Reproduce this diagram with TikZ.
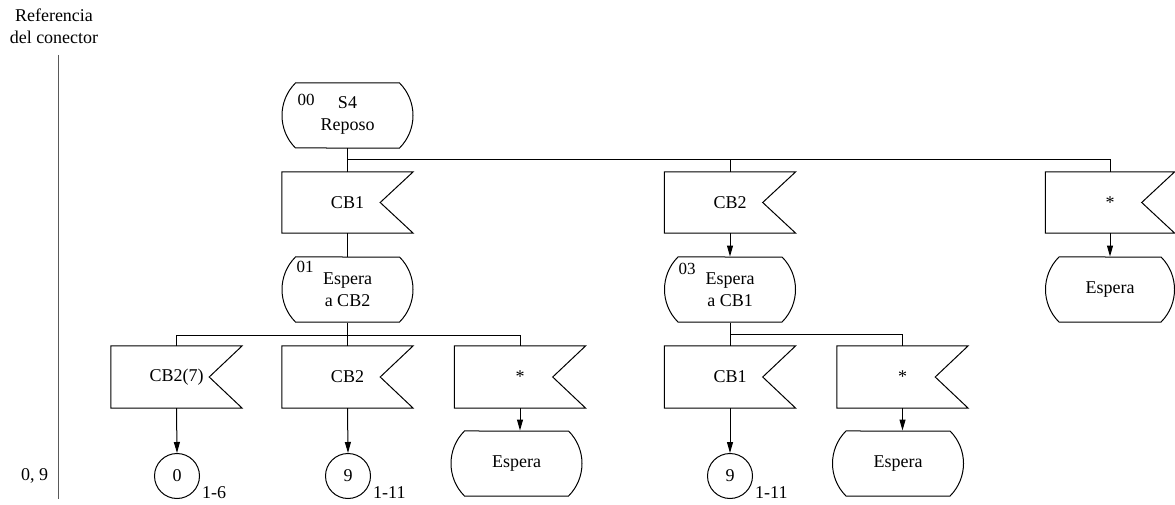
\documentclass[tikz,border=0pt]{standalone}
\usepackage{fontspec}
\setmainfont{Liberation Serif}
\usetikzlibrary{shapes.misc,arrows.meta}
\newcommand\sigtxt[1]{\makebox[109pt]{#1}\hspace{22pt}}
\begin{document}
\begin{tikzpicture}[x=1pt,y=-1pt,
  every node/.style={font=\fontsize{18}{22}\selectfont},
  sig/.style={rectangle, minimum width=131pt, minimum height=61pt, inner sep=0pt},
  state/.style={draw, rounded rectangle, rounded rectangle arc length=90, minimum width=131pt, minimum height=65pt, inner sep=0pt, align=center, line width=1pt},
  conn/.style={draw, circle, minimum size=45pt, inner sep=0pt, line width=1pt},
  num/.style={font=\fontsize{17}{20}\selectfont, inner sep=0pt},
  ln/.style={line width=1pt},
  arr/.style={ln, -{Triangle[length=11pt,width=6pt]}},
]
\useasboundingbox (0,0) rectangle (1175,505);
% reference column
\node[align=center] (ref) at (54,26) {Referencia\\del conector};
\coordinate (rtop) at (58,55);
\coordinate (rbot) at (58,499);
\draw[line width=1pt, black!65] (rtop) -- (rbot);
\node (r09) at (34.5,476) {0, 9};
% top level
\node[state] (s0) at (347.5,115.5) {S4\\Reposo};
\node[num] (n0) at (306,100) {00};
\node[sig] (a1) at (347.5,202.5) {\sigtxt{CB1}};
\node[state] (s1) at (347.5,289.5) {Espera\\a CB2};
\node[num] (n1) at (305,267) {01};
\node[sig] (b1) at (730,202.5) {\sigtxt{CB2}};
\node[state] (s3) at (730,289.5) {Espera\\a CB1};
\node[num] (n3) at (687,269) {03};
\node[sig, minimum width=129pt] (c1) at (1110,202.5) {\makebox[107pt]{*}\hspace{22pt}};
\node[state, minimum width=129pt] (c2) at (1110,289.5) {Espera};
% bottom level
\node[sig, minimum height=62pt] (a21) at (176.5,377) {\sigtxt{CB2(7)}};
\node[sig, minimum height=62pt] (a22) at (347.5,377) {\sigtxt{CB2}};
\node[sig, minimum height=62pt] (a23) at (520,377) {\sigtxt{*}};
\node[conn] (k0) at (177,476) {0};
\node[conn] (k9a) at (348,476) {9};
\node[state] (a24) at (516.5,463.5) {Espera};
\node[sig, minimum height=62pt] (b21) at (730,377) {\sigtxt{CB1}};
\node[sig, minimum height=62pt] (b22) at (902.5,377) {\sigtxt{*}};
\node[conn] (k9b) at (730,476) {9};
\node[state] (b23) at (898,463.5) {Espera};
\node[anchor=west, inner sep=0pt, xshift=25pt, yshift=-17pt] (l0) at (k0.center) {1-6};
\node[anchor=west, inner sep=0pt, xshift=25pt, yshift=-17pt] (l9a) at (k9a.center) {1-11};
\node[anchor=west, inner sep=0pt, xshift=25pt, yshift=-17pt] (l9b) at (k9b.center) {1-11};
% signal outlines
\foreach \n in {a1,b1,c1,a21,a22,a23,b21,b22}
  \draw[ln] (\n.north west) -- (\n.north east) -- ([xshift=-33pt]\n.east) -- (\n.south east) -- (\n.south west) -- cycle;
% connectors
\draw[ln] (s0.south) -- ++(0,11) coordinate (bus1) -| (c1.north);
\draw[ln] (bus1) -| (b1.north);
\draw[ln] (bus1) -- (a1.north);
\draw[ln] (a1.south) -- (s1.north);
\draw[arr] (b1.south) -- (s3.north);
\draw[arr] (c1.south) -- (c2.north);
\draw[ln] (s1.south) -- ++(0,13) coordinate (bus2) -| (a21.north);
\draw[ln] (bus2) -| (a23.north);
\draw[ln] (bus2) -- (a22.north);
\draw[arr] (a21.south) -- (k0.north);
\draw[arr] (a22.south) -- (k9a.north);
\draw[arr] (a23.south) -- (a23.south |- a24.north);
\draw[ln] (s3.south) -- ++(0,12) coordinate (bus3) -| (b22.north);
\draw[ln] (bus3) -- (b21.north);
\draw[arr] (b21.south) -- (k9b.north);
\draw[arr] (b22.south) -- (b22.south |- b23.north);
\end{tikzpicture}
\end{document}
